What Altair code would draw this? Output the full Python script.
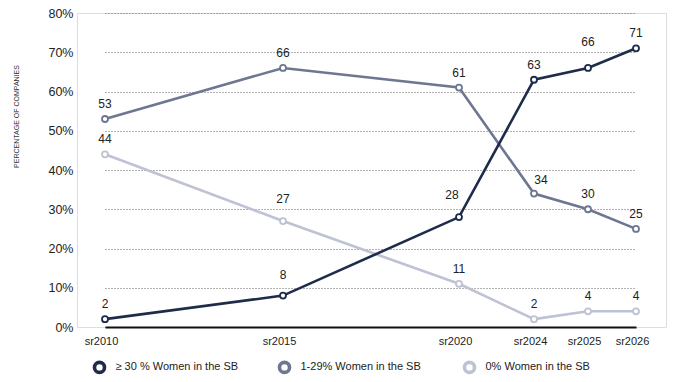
import altair as alt
import pandas as pd

# Survey rounds and share of companies (in %) per supervisory-board category
years = [2010, 2015, 2020, 2024, 2025, 2026]
series_names = ["≥ 30 % Women in the SB", "1-29% Women in the SB", "0% Women in the SB"]
women_30_plus = [2, 8, 28, 63, 66, 71]
women_1_29 = [53, 66, 61, 34, 30, 25]
women_0 = [44, 27, 11, 2, 4, 4]
series_colors = ["#1e2b4a", "#6e7792", "#bec2d3"]

rows = []
for name, values in zip(series_names, [women_30_plus, women_1_29, women_0]):
    for year, value in zip(years, values):
        rows.append({"year": year, "series": name, "share": value})
df = pd.DataFrame(rows)

FONT = "Liberation Sans"

# Rounds are not evenly spaced on the axis: piecewise-linear x scale
x_scale = alt.Scale(domain=years, range=[28, 206, 382, 457, 511, 559], zero=False, nice=False)
y_scale = alt.Scale(domain=[0, 80], nice=False)
color_scale = alt.Scale(domain=series_names, range=series_colors)

x_enc = alt.X(
    "year:Q",
    scale=x_scale,
    axis=alt.Axis(
        values=years,
        labelExpr="'sr' + datum.value",
        labelOverlap=False,
        labelFlush=False,
        labelOffset=-4,
        title=None,
        grid=False,
        ticks=False,
        domain=True,
        domainColor="#111111",
        domainWidth=2,
        labelFontSize=11,
        labelColor="#222222",
        labelPadding=8,
        labelFont=FONT,
    ),
)
y_enc = alt.Y(
    "share:Q",
    scale=y_scale,
    axis=alt.Axis(
        values=list(range(0, 81, 10)),
        labelExpr="datum.value + '%'",
        title="PERCENTAGE OF COMPANIES",
        titleFontSize=7,
        titleFontWeight="normal",
        titleFont=FONT,
        titleColor="#333333",
        titleX=-61,
        titleY=103,
        titleAngle=270,
        titleAlign="center",
        titleBaseline="middle",
        grid=True,
        gridColor="#666666",
        gridDash=[1, 2],
        gridWidth=1,
        ticks=False,
        domain=False,
        labelFontSize=12.5,
        labelColor="#222222",
        labelPadding=4,
        labelFont=FONT,
    ),
)

legend = alt.Legend(
    title=None,
    orient="none",
    legendX=15.5,
    legendY=347,
    direction="horizontal",
    gridAlign="all",
    columnPadding=33,
    symbolType="circle",
    symbolSize=100,
    symbolStrokeWidth=3.6,
    symbolFillColor="white",
    labelFontSize=11,
    labelFont=FONT,
    labelColor="#222222",
    labelOffset=9,
)
stroke_enc = alt.Stroke("series:N", scale=color_scale, sort=series_names, legend=legend)

base = alt.Chart(df)

def line_for(name):
    return base.transform_filter(alt.datum.series == name).mark_line(strokeWidth=2.6).encode(
        x=x_enc, y=y_enc, stroke=stroke_enc
    )

lines = [line_for(n) for n in reversed(series_names)]

points = base.mark_point(filled=True, fill="white", size=36, strokeWidth=1.8, opacity=1).encode(
    x=x_enc, y=y_enc, stroke=stroke_enc
)

# Value labels; a few are nudged to keep clear of the crossing lines
nudges = [
    (series_names[0], 2015, 0, -21),
    (series_names[0], 2020, -7, -22),
    (series_names[0], 2025, 0, -26),
    (series_names[1], 2024, 7, -14),
    (series_names[2], 2015, 0, -22),
]

def label_layer(data_filter, dx, dy):
    return base.transform_filter(data_filter).mark_text(
        dx=dx, dy=dy, fontSize=12, font=FONT, color="#222222"
    ).encode(x=x_enc, y=y_enc, text=alt.Text("share:Q"))

default_filter = "true"
for name, yr, _, _ in nudges:
    default_filter += f" && !(datum.series === '{name}' && datum.year === {yr})"

labels = [label_layer(default_filter, 0, -15)]
for name, yr, dx, dy in nudges:
    labels.append(label_layer(f"datum.series === '{name}' && datum.year === {yr}", dx, dy))

chart = alt.layer(*lines, points, *labels).properties(
    width=589,
    height=314,
    autosize=alt.AutoSizeParams(type="none"),
    padding={"left": 77, "top": 13, "right": 7, "bottom": 55},
).configure_view(stroke=None).configure(font=FONT, background="white")

chart.save("out.html", embed_options={"renderer": "svg", "actions": False})
